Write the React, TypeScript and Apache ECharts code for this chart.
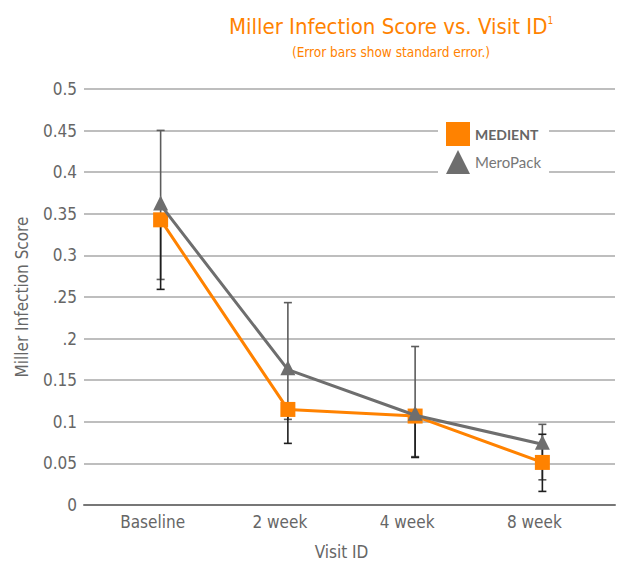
import React, { useEffect, useRef } from "react";
import * as echarts from "echarts";

const categories = ["Baseline", "2 week", "4 week", "8 week"];
const yTickLabels = ["0", "0.05", "0.1", "0.15", ".2", ".25", "0.3", "0.35", "0.4", "0.45", "0.5"];

const medient = [0.342, 0.113, 0.105, 0.049];
const medientErrMinus = [0.084, 0.041, 0.05, 0.035];
const medientErrPlus = [0, 0, 0, 0.034];

const meroPack = [0.36, 0.161, 0.106, 0.071];
const meroPackErrMinus = [0.09, 0.06, 0.05, 0.043];
const meroPackErrPlus = [0.09, 0.081, 0.083, 0.024];

const ORANGE = "#ff8200";
const GREY = "#6e6e6e";
const FONT = "'Liberation Sans Narrow', 'DejaVu Sans Condensed', Lato, sans-serif";
const LFONT = "Lato, 'Open Sans', sans-serif";

function errorData(vals: number[], minus: number[], plus: number[]) {
  return vals.map((v, i) => [i, v - minus[i], v + plus[i]]);
}

function errorSeries(name: string, data: number[][], color: string, z: number) {
  return {
    type: "custom",
    name: name + " SE",
    xAxisIndex: 1,
    yAxisIndex: 1,
    z,
    data,
    encode: { x: 0, y: [1, 2] },
    renderItem: (params: any, api: any) => {
      const x = api.value(0);
      const lo = api.coord([x, api.value(1)]);
      const hi = api.coord([x, api.value(2)]);
      const cap = 4;
      const style = { stroke: color, lineWidth: 1.6 };
      return {
        type: "group",
        children: [
          { type: "line", shape: { x1: lo[0], y1: lo[1], x2: hi[0], y2: hi[1] }, style },
          { type: "line", shape: { x1: lo[0] - cap, y1: lo[1], x2: lo[0] + cap, y2: lo[1] }, style },
          { type: "line", shape: { x1: hi[0] - cap, y1: hi[1], x2: hi[0] + cap, y2: hi[1] }, style },
        ],
      };
    },
  };
}

export default function App() {
  const ref = useRef<HTMLDivElement>(null);
  useEffect(() => {
    if (!ref.current) return;
    const chart = echarts.init(ref.current, null, { renderer: "svg" });
    const gridTop = 89;
    const gridBottom = 60;
    chart.setOption({
      animation: false,
      backgroundColor: "#fff",
      textStyle: { fontFamily: FONT },
      title: [
        {
          text: "Miller Infection Score vs. Visit ID{sup|1}",
          left: 386,
          textAlign: "center",
          top: 10,
          textStyle: {
            color: ORANGE,
            fontSize: 22,
            fontWeight: "normal",
            fontFamily: FONT,
            rich: { sup: { fontSize: 10, color: ORANGE, fontFamily: FONT, verticalAlign: "top", padding: [0, 0, 11, 0] } },
          },
        },
        {
          text: "(Error bars show standard error.)",
          left: 386,
          textAlign: "center",
          top: 40,
          textStyle: { color: ORANGE, fontSize: 13.5, fontWeight: "normal", fontFamily: FONT },
        },
      ],
      legend: {
        orient: "vertical",
        left: 438,
        top: 118,
        backgroundColor: "#fff",
        padding: [4, 8, 6, 8],
        itemWidth: 24,
        itemHeight: 24,
        itemGap: 4,
        data: [
          { name: "MEDIENT", icon: "rect", textStyle: { fontWeight: "bold", color: "#666", fontSize: 14, fontFamily: LFONT } },
          { name: "MeroPack", icon: "triangle", textStyle: { color: "#777", fontSize: 15, fontFamily: LFONT } },
        ],
        textStyle: { fontFamily: LFONT, color: "#666", fontSize: 14 },
      },
      grid: [
        { left: 84, right: 9, top: gridTop, bottom: gridBottom },
        { left: 97, right: 18, top: gridTop, bottom: gridBottom },
      ],
      xAxis: [
        {
          gridIndex: 0,
          type: "category",
          data: categories,
          axisLabel: { show: false },
          axisTick: { show: false },
          axisLine: { show: true, lineStyle: { color: "#777", width: 2 } },
        },
        {
          gridIndex: 1,
          type: "category",
          data: categories,
          boundaryGap: true,
          axisLine: { show: false },
          axisTick: { show: false },
          axisLabel: { color: "#666", fontSize: 17, margin: 10, fontFamily: FONT, padding: [0, 16, 0, 0] },
          name: "Visit ID",
          nameLocation: "middle",
          nameGap: 40,
          nameTextStyle: { color: "#666", fontSize: 17, fontFamily: FONT, padding: [0, 20, 0, 0] },
        },
      ],
      yAxis: [
        {
          gridIndex: 0,
          type: "value",
          min: 0,
          max: 0.5,
          interval: 0.05,
          axisLine: { show: false },
          axisTick: { show: false },
          splitLine: { show: true, lineStyle: { color: "#a8a8a8", width: 1.5 } },
          axisLabel: {
            color: "#666",
            fontSize: 17,
            margin: 7,
            fontFamily: FONT,
            formatter: (v: number) => yTickLabels[Math.round(v / 0.05)] ?? "",
          },
          name: "Miller Infection Score",
          nameLocation: "middle",
          nameGap: 54,
          nameTextStyle: { color: "#666", fontSize: 17, fontFamily: FONT },
        },
        {
          gridIndex: 1,
          type: "value",
          min: 0,
          max: 0.5,
          interval: 0.05,
          show: false,
          splitLine: { show: false },
        },
      ],
      series: [
        errorSeries("MeroPack", errorData(meroPack, meroPackErrMinus, meroPackErrPlus), "#5c5c5c", 2),
        errorSeries("MEDIENT", errorData(medient, medientErrMinus, medientErrPlus), "#1e1e1e", 3),
        {
          name: "MEDIENT",
          type: "line",
          xAxisIndex: 1,
          yAxisIndex: 1,
          data: medient,
          z: 4,
          symbol: "rect",
          symbolSize: 15,
          itemStyle: { color: ORANGE },
          lineStyle: { color: ORANGE, width: 3 },
        },
        {
          name: "MeroPack",
          type: "line",
          xAxisIndex: 1,
          yAxisIndex: 1,
          data: meroPack,
          z: 5,
          symbol: "triangle",
          symbolSize: 15,
          symbolOffset: [0, -2],
          itemStyle: { color: GREY },
          lineStyle: { color: GREY, width: 3 },
        },
      ],
    });
    return () => chart.dispose();
  }, []);
  return <div ref={ref} style={{ position: "fixed", left: 0, top: 0, width: 624, height: 565 }} />;
}
